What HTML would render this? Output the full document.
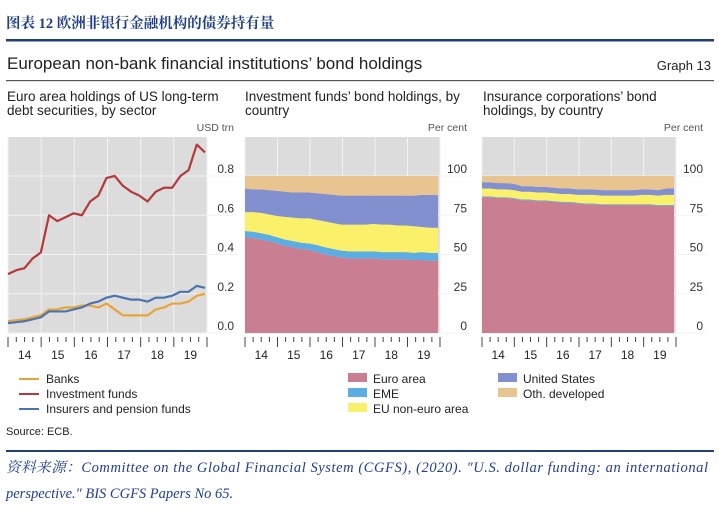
<!DOCTYPE html>
<html><head><meta charset="utf-8">
<style>
body{margin:0;background:#fff;width:719px;height:512px;overflow:hidden}
svg{display:block}
.s{font-family:"Liberation Sans","DejaVu Sans",sans-serif}
</style></head>
<body>
<svg id="c" width="719" height="512" xmlns="http://www.w3.org/2000/svg" class="s">
<text x="6" y="28" font-family="Liberation Serif,'Noto Serif CJK SC',serif" font-weight="bold" font-size="14.5" fill="#1f3f86">图表 12  欧洲非银行金融机构的债券持有量</text>
<rect x="6" y="39" width="708" height="2.5" fill="#1f3f7a"/>
<text x="7" y="69" font-size="17" fill="#222">European non-bank financial institutions’ bond holdings</text>
<text x="711" y="70" font-size="13" fill="#222" text-anchor="end">Graph 13</text>
<rect x="6" y="80" width="708" height="1.2" fill="#555"/>
<text x="7" y="101" font-size="13.5" fill="#222">Euro area holdings of US long-term</text>
<text x="7" y="115" font-size="13.5" fill="#222">debt securities, by sector</text>
<text x="245" y="101" font-size="13.5" fill="#222">Investment funds’ bond holdings, by</text>
<text x="245" y="115" font-size="13.5" fill="#222">country</text>
<text x="483" y="101" font-size="13.5" fill="#222">Insurance corporations’ bond</text>
<text x="483" y="115" font-size="13.5" fill="#222">holdings, by country</text>
<g id="p1"></g><g id="p2"></g><g id="p3"></g>
<g font-size="12" fill="#222">
<rect x="19" y="378" width="20" height="2" fill="#e8a33a"/><text x="46" y="383">Banks</text>
<rect x="19" y="393" width="20" height="2" fill="#b33a3a"/><text x="46" y="398">Investment funds</text>
<rect x="19" y="408" width="20" height="2" fill="#4a74b0"/><text x="46" y="413">Insurers and pension funds</text>
</g>
<g font-size="12" fill="#222">
<rect x="348" y="373" width="19" height="9" fill="#c97f91"/><text x="373" y="383">Euro area</text>
<rect x="348" y="388" width="19" height="9" fill="#5aaee4"/><text x="373" y="398">EME</text>
<rect x="348" y="403" width="19" height="9" fill="#fbf06a"/><text x="373" y="413">EU non-euro area</text>
<rect x="498" y="373" width="19" height="9" fill="#8290cf"/><text x="523" y="383">United States</text>
<rect x="498" y="388" width="19" height="9" fill="#e8c590"/><text x="523" y="398">Oth. developed</text>
</g>
<text x="6" y="435" font-size="11" fill="#222">Source: ECB.</text>
<rect x="6" y="450" width="708" height="2" fill="#1f3f7a"/>
<text x="6" y="472" font-family="Liberation Serif,'Noto Serif CJK SC',serif" font-style="italic" font-size="14.5" fill="#1f3f96" textLength="702">资料来源：Committee on the Global Financial System (CGFS), (2020). "U.S. dollar funding: an international</text>
<text x="6" y="498" font-family="Liberation Serif,serif" font-style="italic" font-size="14.5" fill="#1f3f96">perspective." BIS CGFS Papers No 65.</text>
</svg>
<script>
const years=["14","15","16","17","18","19"];
const leftTicks=["0.0","0.2","0.4","0.6","0.8"];
const pctTicks=["0","25","50","75","100"];
const banks=[0.06,0.065,0.07,0.08,0.09,0.12,0.12,0.13,0.13,0.14,0.14,0.13,0.15,0.12,0.09,0.09,0.09,0.09,0.12,0.13,0.15,0.15,0.16,0.19,0.20];
const invFunds=[0.30,0.32,0.33,0.38,0.41,0.60,0.57,0.59,0.61,0.60,0.67,0.70,0.79,0.80,0.75,0.72,0.70,0.67,0.72,0.74,0.74,0.80,0.83,0.96,0.92];
const insurers=[0.05,0.055,0.06,0.07,0.08,0.11,0.11,0.11,0.12,0.13,0.15,0.16,0.18,0.19,0.18,0.17,0.17,0.16,0.18,0.18,0.19,0.21,0.21,0.24,0.23];
const ifEuro=[61,60.5,59.5,58.5,57,55.5,54.5,53.5,53,51.5,50,49,48,47.5,47.5,47.5,47.5,47,47,47,47,46.5,46.5,46,46];
const ifEME=[4,4,4,4,4,4,4,4,4,4.5,4.5,4.5,4.5,4.5,4.5,4.5,4.5,4.5,4.5,4.5,4.5,4.5,5,5,5];
const ifEU=[12,12.5,13,13,13.5,14.5,15,15.5,16,16,16.5,16.5,16.5,17,17,17,17.5,17.5,17.5,17,17,17,16,16,16];
const ifUS=[15,14.5,15,15.5,16,16,16,16.5,16.5,17,17.5,18,18.5,18.5,18.5,18.5,18,18.5,18.5,19,19,19.5,20.5,21,21];
const icEuro=[86.5,86.5,86,86,85.5,84.5,84.5,84,84,83.5,83,83,82.5,82,82,81.5,81.5,81.5,81.5,81.5,81.5,81.5,81,81,81];
const icEME=[0.5,0.5,0.5,0.5,0.5,0.5,0.5,0.5,0.5,0.5,0.5,0.5,0.5,0.5,0.5,0.5,0.5,0.5,0.5,0.5,0.5,0.5,0.5,0.5,0.5];
const icEU=[5,5,5,5,5,5,5,5,5,5,5,5,5,5.5,5.5,5.5,5.5,5.5,5.5,5.5,6,6,6,6.5,6.5];
const icUS=[4,4,4,4,4,3.5,3.5,3.5,3.5,3.5,3.5,3.5,3.5,3.5,3.5,3.5,3.5,3.5,3.5,3.5,3.5,3.5,3.5,4,4];
const NS="http://www.w3.org/2000/svg";
function mk(p,t,a){const e=document.createElementNS(NS,t);for(const k in a)e.setAttribute(k,a[k]);p.appendChild(e);return e;}
const Y0=333,Y1=137;
function panel(id,x0,x1,vtop,ticks,unit){
 const g=document.getElementById(id);
 const sy=v=>Y0-(v/vtop)*(Y0-176);
 const bg=mk(g,'rect',{x:x0,y:Y1,width:x1-x0,height:Y0-Y1,fill:'#dcdcdc'});
 
 
 const yw=(x1-x0)/6;
 for(let i=0;i<=6;i++){const l=mk(g,'line',{x1:x0+i*yw,x2:x0+i*yw,y1:Y1,y2:Y0,stroke:'#f2f2f2','stroke-width':1});
  
  }
 ticks.forEach((t,i)=>{const v=parseFloat(t),y=sy(v);
  const l=mk(g,'line',{x1:x0,x2:x1+30,y1:y,y2:y,stroke:'#f2f2f2','stroke-width':1});
  
  
  const tx=mk(g,'text',{x:x1+27,y:y-3,'font-size':12,fill:'#333','text-anchor':'end'});tx.textContent=t;
  
  });
 const ut=mk(g,'text',{x:x1+27,y:Y1-6,'font-size':10.5,fill:'#555','text-anchor':'end'});ut.textContent=unit;
 
 
 for(let q=0;q<=24;q++){const x=x0+q*yw/4;const big=q%4==0;
  const tk=mk(g,'line',{x1:x,x2:x,y1:Y0+4,y2:Y0+(big?14:9),stroke:'#444','stroke-width':1});
  
  }
 years.forEach((yr,i)=>{const t=mk(g,'text',{x:x0+i*yw+yw/2,y:Y0+26,'font-size':12,fill:'#222','text-anchor':'middle'});t.textContent=yr;
  
  });
 return {g,sx:i=>x0+i*(x1-x0-2)/24,sy};
}
const P1=panel('p1',8,207,0.8,leftTicks,'USD trn');
[[banks,'#e8a33a','banks-line'],[insurers,'#4a74b0','insurers-line'],[invFunds,'#b33a3a','investment-funds-line']].forEach(([d,c,n])=>{
 const p=mk(P1.g,'polyline',{points:d.map((v,i)=>P1.sx(i)+','+P1.sy(v)).join(' '),fill:'none',stroke:c,'stroke-width':2.2,'stroke-linejoin':'round'});
 
 
});
function stack(P,series,names){
 const cols=['#c97f91','#5aaee4','#fbf06a','#8290cf','#e8c590'];
 const n=series[0].length;let base=new Array(n).fill(0);
 const all=series.slice();
 const oth=base.map((_,i)=>100-series.reduce((s,a)=>s+a[i],0));all.push(oth);
 all.forEach((d,k)=>{const top=base.map((b,i)=>b+d[i]);
  let pts=top.map((v,i)=>P.sx(i)+','+P.sy(v));
  for(let i=n-1;i>=0;i--)pts.push(P.sx(i)+','+P.sy(base[i]));
  const a=mk(P.g,'polygon',{points:pts.join(' '),fill:cols[k]});
  
  
  base=top;});
}
const P2=panel('p2',245,440,100,pctTicks,'Per cent');
stack(P2,[ifEuro,ifEME,ifEU,ifUS],['euro-area-area','eme-area','eu-non-euro-area','united-states-area','oth-developed-area']);
const P3=panel('p3',482,676,100,pctTicks,'Per cent');
stack(P3,[icEuro,icEME,icEU,icUS],['euro-area-area','eme-area','eu-non-euro-area','united-states-area','oth-developed-area']);
</script>
</body></html>
